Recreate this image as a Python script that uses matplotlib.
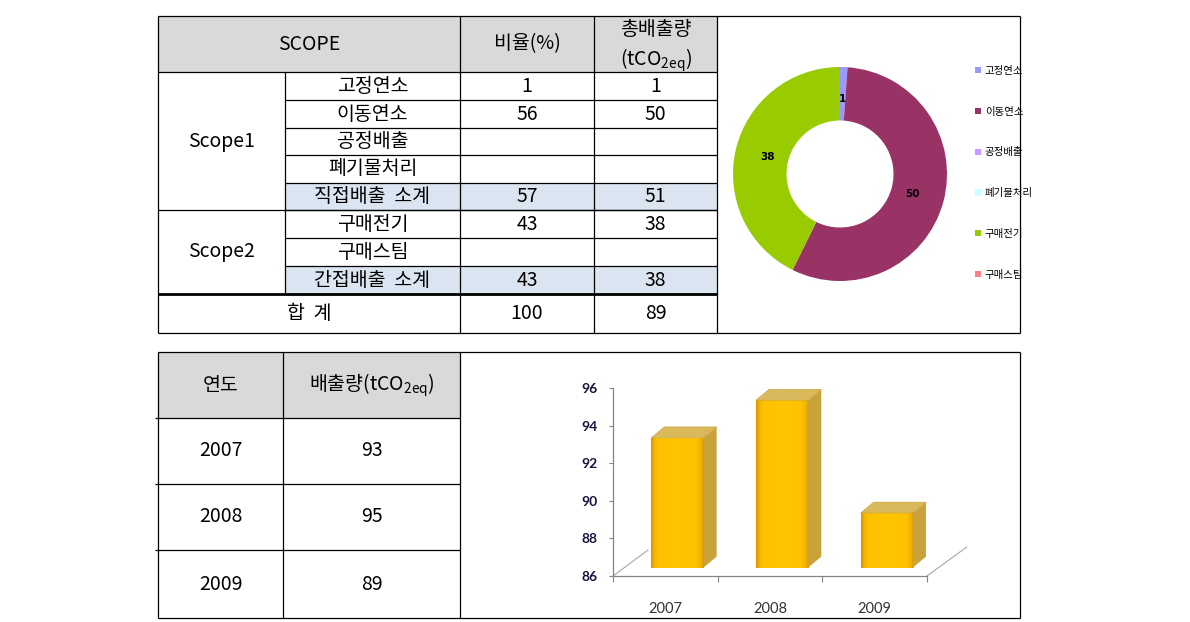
import matplotlib
matplotlib.use('Agg')
import matplotlib.pyplot as plt
import numpy as np
from matplotlib.patches import Polygon, Rectangle
from matplotlib.colors import LinearSegmentedColormap

plt.rcParams['font.family'] = ['Noto Sans CJK KR', 'DejaVu Sans']

# ---------------- data ----------------
scope_groups = ['Scope1', 'Scope2']
scope_items = ['고정연소', '이동연소', '공정배출', '폐기물처리', '직접배출  소계',
               '구매전기', '구매스팀', '간접배출  소계']
ratio_pct = ['1', '56', '', '', '57', '43', '', '43']
emission_t = ['1', '50', '', '', '51', '38', '', '38']
subtotal_rows = [4, 7]
total_label = '합  계'
total_ratio = '100'
total_emission = '89'
top_headers = ['SCOPE', '비율(%)', '총배출량\n(tCO$_{\\mathregular{2eq}}$)']

donut_labels = ['고정연소', '이동연소', '공정배출', '폐기물처리', '구매전기', '구매스팀']
donut_values = [1, 50, 0, 0, 38, 0]
donut_colors = ['#9999ff', '#993366', '#cc99ff', '#ccffff', '#99cc00', '#ff8080']

years = ['2007', '2008', '2009']
year_emissions = [93, 95, 89]
bottom_headers = ['연도', '배출량(tCO$_{\\mathregular{2eq}}$)']

W, H = 1190, 622
fig = plt.figure(figsize=(W / 100, H / 100), dpi=100)
ax0 = fig.add_axes([0, 0, 1, 1])
ax0.set_xlim(0, W)
ax0.set_ylim(H, 0)
ax0.axis('off')


def fa(x0, y0, x1, y1):
    return [x0 / W, 1 - y1 / H, (x1 - x0) / W, (y1 - y0) / H]


LW = 0.9
GRAY = '#d9d9d9'
BLUE = '#dbe5f1'
FS = 14


def hl(y, x0, x1, lw=LW):
    ax0.plot([x0, x1], [y, y], color='black', lw=lw, solid_capstyle='butt', zorder=3)


def vl(x, y0, y1, lw=LW):
    ax0.plot([x, x], [y0, y1], color='black', lw=lw, solid_capstyle='butt', zorder=3)


def txt(x, y, s, fs=FS, **kw):
    ax0.text(x, y, s, ha='center', va='center', fontsize=fs, color='black', **kw)


# ---------------- top table ----------------
tx = [158, 285, 460, 594, 717, 1020]
ty_head = (16, 72)
row_edges = [72, 100, 128, 155, 183, 210, 238, 266, 294]
ty_total = (294, 333)

ax0.add_patch(Rectangle((tx[0], ty_head[0]), tx[4] - tx[0], ty_head[1] - ty_head[0],
                        facecolor=GRAY, edgecolor='none', zorder=1))
for r in subtotal_rows:
    ax0.add_patch(Rectangle((tx[1], row_edges[r]), tx[4] - tx[1], row_edges[r + 1] - row_edges[r],
                            facecolor=BLUE, edgecolor='none', zorder=1))

hl(16, tx[0], tx[5]); hl(333, tx[0], tx[5])
vl(tx[0], 16, 333); vl(tx[5], 16, 333)
vl(tx[2], 16, 333); vl(tx[3], 16, 333); vl(tx[4], 16, 333)
vl(tx[1], 72, 294)
hl(72, tx[0], tx[4])
for y in row_edges[1:-1]:
    hl(y, tx[1], tx[4])
hl(210, tx[0], tx[4])
hl(294, tx[0], tx[4], lw=2.0)

txt((tx[0] + tx[2]) / 2, 44, top_headers[0])
txt((tx[2] + tx[3]) / 2, 44, top_headers[1])
txt((tx[3] + tx[4]) / 2, 46, top_headers[2], linespacing=1.3)
for i, (it, rp, em) in enumerate(zip(scope_items, ratio_pct, emission_t)):
    yc = (row_edges[i] + row_edges[i + 1]) / 2
    txt((tx[1] + tx[2]) / 2, yc, it)
    txt((tx[2] + tx[3]) / 2, yc, rp)
    txt((tx[3] + tx[4]) / 2, yc, em)
txt((tx[0] + tx[1]) / 2, (72 + 210) / 2, scope_groups[0])
txt((tx[0] + tx[1]) / 2, (210 + 294) / 2, scope_groups[1])
txt((tx[0] + tx[2]) / 2, (294 + 333) / 2, total_label)
txt((tx[2] + tx[3]) / 2, (294 + 333) / 2, total_ratio)
txt((tx[3] + tx[4]) / 2, (294 + 333) / 2, total_emission)

# ---------------- donut ----------------
cx, cy, R = 840, 174, 107
axd = fig.add_axes(fa(cx - R, cy - R, cx + R, cy + R))
axd.pie(donut_values, colors=donut_colors, startangle=90, counterclock=False,
        radius=1.0, wedgeprops=dict(width=0.5, edgecolor='none'))
axd.set_xlim(-1, 1)
axd.set_ylim(-1, 1)
axd.set_aspect('equal')
axd.axis('off')
total = float(sum(donut_values))
cum = 0.0
for v in donut_values:
    if v > 0:
        mid = np.deg2rad(90 - 360 * (cum + v / 2) / total)
        rr = 0.7
        axd.text(rr * np.cos(mid), rr * np.sin(mid), str(v), ha='center', va='center',
                 fontsize=7.5, fontweight='bold', color='black', family='DejaVu Sans')
    cum += v

handles = [Rectangle((0, 0), 1, 1, facecolor=c, edgecolor='none') for c in donut_colors]
fig.legend(handles, donut_labels, loc='upper left', bbox_to_anchor=(975 / W, 1 - 66 / H),
           frameon=False, fontsize=7.5, handlelength=0.55, handleheight=0.55,
           handletextpad=0.4, labelspacing=2.95, borderpad=0, borderaxespad=0)

# ---------------- bottom table ----------------
bx = [158, 283, 460, 1020]
by = [352, 418, 484, 550, 618]
ax0.add_patch(Rectangle((bx[0], by[0]), bx[2] - bx[0], by[1] - by[0],
                        facecolor=GRAY, edgecolor='none', zorder=1))
hl(by[0], bx[0], bx[3]); hl(by[-1], bx[0], bx[3])
vl(bx[0], by[0], by[-1]); vl(bx[3], by[0], by[-1])
vl(bx[1], by[0], by[-1]); vl(bx[2], by[0], by[-1])
for y in by[1:-1]:
    hl(y, bx[0] - 3, bx[2])
txt((bx[0] + bx[1]) / 2, (by[0] + by[1]) / 2, bottom_headers[0])
txt((bx[1] + bx[2]) / 2, (by[0] + by[1]) / 2, bottom_headers[1])
for i, (yr, ev) in enumerate(zip(years, year_emissions)):
    yc = (by[i + 1] + by[i + 2]) / 2
    txt((bx[0] + bx[1]) / 2, yc, yr)
    txt((bx[1] + bx[2]) / 2, yc, str(ev))

# ---------------- 3D-look bar chart ----------------
axb = fig.add_axes(fa(613, 388, 927, 576))
xs = np.arange(len(years))
base = 86.45
shift = 0.115
bw = 0.5
ddx, ddy = 0.125, 0.58
tops = [v + 0.35 for v in year_emissions]
bars = axb.bar(xs + shift, [t - base for t in tops], bottom=base, width=bw,
               color='#ffc000', edgecolor='none', zorder=3)
cmap = LinearSegmentedColormap.from_list(
    'gold', [(0.0, '#d99400'), (0.06, '#f5b400'), (0.14, '#ffc200'), (0.5, '#ffc400'),
             (0.86, '#ffc200'), (0.95, '#f0b000'), (1.0, '#d69a00')])
grad = np.linspace(0, 1, 128)[None, :]
for b, t in zip(bars, tops):
    x0 = b.get_x(); x1 = x0 + b.get_width()
    im = axb.imshow(grad, cmap=cmap, extent=[x0, x1, base, t], aspect='auto',
                    zorder=3.5, interpolation='bilinear')
    im.set_clip_path(b)
    axb.add_patch(Polygon([(x0, t), (x1, t), (x1 + ddx, t + ddy), (x0 + ddx, t + ddy)],
                          closed=True, facecolor='#dab95c', edgecolor='#c8a440', lw=0.4,
                          zorder=4, clip_on=False))
    axb.add_patch(Polygon([(x1, base), (x1, t), (x1 + ddx, t + ddy), (x1 + ddx, base + ddy)],
                          closed=True, facecolor='#c9a23c', edgecolor='none', zorder=4,
                          clip_on=False))

axb.set_xlim(-0.5, 2.5)
axb.set_ylim(86, 96)
axb.set_yticks(range(86, 97, 2))
axb.set_yticklabels([str(v) for v in range(86, 97, 2)], fontsize=10, fontweight='bold',
                    color='#15153d', family=['Lato', 'DejaVu Sans'])
axb.set_xticks([-0.5, 0.5, 1.5, 2.5])
axb.set_xticklabels([])
axb.set_xticks(xs, minor=True)
axb.set_xticklabels(years, minor=True, fontsize=10.5, color='#333333',
                    family=['Lato', 'DejaVu Sans'])
axb.tick_params(axis='x', which='minor', length=0, pad=19)
axb.tick_params(axis='x', which='major', length=4, color='#868686', direction='out')
axb.tick_params(axis='y', length=3, color='#868686', pad=8)
for s in ['top', 'right']:
    axb.spines[s].set_visible(False)
for s in ['left', 'bottom']:
    axb.spines[s].set_color('#868686')
    axb.spines[s].set_linewidth(0.9)
axb.set_facecolor('none')
axb.plot([-0.5, -0.5 + 0.334], [86, 86 + 1.38], color='#a6a6a6', lw=0.8, clip_on=False)
axb.plot([2.5, 2.5 + 0.38], [86, 86 + 1.54], color='#a6a6a6', lw=0.8, clip_on=False)

fig.savefig('out.png', dpi=100)
